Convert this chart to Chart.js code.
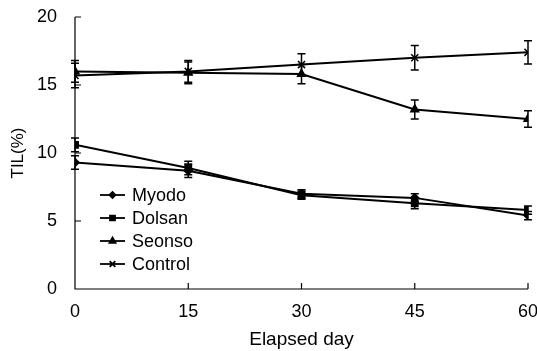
<!DOCTYPE html>
<html>
<head>
<meta charset="utf-8">
<script src="https://cdn.jsdelivr.net/npm/chart.js"></script>
<style>
  html, body { margin: 0; padding: 0; background: #fff; }
  #wrap { width: 537px; height: 351px; position: relative; }
</style>
</head>
<body>
<div id="wrap"><canvas id="chart"></canvas></div>
<script>
// Data
const days = [0, 15, 30, 45, 60];
const yTicks = [0, 5, 10, 15, 20];

const myodo = [9.3, 8.7, 7.0, 6.7, 5.4];
const myodoErr = [0.5, 0.5, 0.3, 0.3, 0.3];
const dolsan = [10.6, 8.9, 6.9, 6.3, 5.8];
const dolsanErr = [0.5, 0.5, 0.3, 0.4, 0.3];
const seonso = [16.0, 15.9, 15.8, 13.2, 12.5];
const seonsoErr = [0.8, 0.8, 0.7, 0.7, 0.6];
const control = [15.7, 16.0, 16.5, 17.0, 17.4];
const controlErr = [0.9, 0.8, 0.8, 0.9, 0.85];

const FONT = '"Liberation Sans", Arial, sans-serif';

function series(label, values, errs, style, radius) {
    return {
        label: label,
        data: values.map((v, i) => ({ x: days[i], y: v })),
        errors: errs,
        borderColor: '#000',
        backgroundColor: '#000',
        borderWidth: 2,
        pointStyle: style,
        pointRadius: radius,
        pointBorderWidth: 1.5,
        pointBorderColor: '#000',
        pointBackgroundColor: '#000',
        tension: 0
    };
}

// Vertical error bars with caps, drawn through the scales
const errorBars = {
    id: 'errorBars',
    afterDatasetsDraw(chart) {
        const ctx = chart.ctx;
        const xs = chart.scales.x, ys = chart.scales.y;
        ctx.save();
        ctx.strokeStyle = '#000';
        ctx.lineWidth = 1.5;
        chart.data.datasets.forEach(ds => {
            ds.data.forEach((p, i) => {
                const e = ds.errors[i];
                const x = xs.getPixelForValue(p.x);
                const yTop = ys.getPixelForValue(p.y + e);
                const yBot = ys.getPixelForValue(p.y - e);
                ctx.beginPath();
                ctx.moveTo(x, yTop); ctx.lineTo(x, yBot);
                ctx.moveTo(x - 4, yTop); ctx.lineTo(x + 4, yTop);
                ctx.moveTo(x - 4, yBot); ctx.lineTo(x + 4, yBot);
                ctx.stroke();
            });
        });
        ctx.restore();
    }
};

// Axis lines with inward tick marks
const axesInward = {
    id: 'axesInward',
    afterDraw(chart) {
        const ctx = chart.ctx;
        const xs = chart.scales.x, ys = chart.scales.y;
        const a = chart.chartArea;
        ctx.save();
        ctx.strokeStyle = '#000';
        ctx.lineWidth = 1.2;
        ctx.beginPath();
        ctx.moveTo(a.left, a.top); ctx.lineTo(a.left, a.bottom); ctx.lineTo(a.right, a.bottom);
        yTicks.forEach(v => {
            const y = ys.getPixelForValue(v);
            ctx.moveTo(a.left, y); ctx.lineTo(a.left + 6, y);
        });
        days.forEach(v => {
            const x = xs.getPixelForValue(v);
            ctx.moveTo(x, a.bottom); ctx.lineTo(x, a.bottom - 6);
        });
        ctx.stroke();
        ctx.restore();
    }
};

// Legend inside the plot area
const innerLegend = {
    id: 'innerLegend',
    afterDraw(chart) {
        const ctx = chart.ctx;
        const x0 = 100, x1 = 125, textX = 132;
        const rowY = [195, 218, 241, 264];
        ctx.save();
        ctx.font = '18px ' + FONT;
        ctx.fillStyle = '#000';
        ctx.textBaseline = 'middle';
        chart.data.datasets.forEach((ds, i) => {
            const y = rowY[i];
            ctx.strokeStyle = '#000';
            ctx.lineWidth = 1.8;
            ctx.beginPath();
            ctx.moveTo(x0, y); ctx.lineTo(x1, y);
            ctx.stroke();
            Chart.helpers.drawPoint(ctx, {
                pointStyle: ds.pointStyle, radius: ds.pointRadius - 1, borderWidth: 1.5
            }, (x0 + x1) / 2, y);
            ctx.fillText(ds.label, textX, y + 1);
        });
        ctx.restore();
    }
};

new Chart(document.getElementById('chart'), {
    type: 'line',
    data: {
        datasets: [
            series('Myodo', myodo, myodoErr, 'rectRot', 4),
            series('Dolsan', dolsan, dolsanErr, 'rect', 4.5),
            series('Seonso', seonso, seonsoErr, 'triangle', 4.5),
            series('Control', control, controlErr, 'crossRot', 5)
        ]
    },
    options: {
        responsive: true,
        maintainAspectRatio: false,
        animation: false,
        layout: { padding: { top: 17, right: 0, left: 0, bottom: 0 } },
        scales: {
            x: {
                type: 'linear',
                min: 0, max: 60,
                afterBuildTicks: s => { s.ticks = days.map(v => ({ value: v })); },
                afterFit: s => { s.height = 62; s.paddingRight = 9; },
                grid: { display: false },
                border: { display: false },
                ticks: { color: '#000', font: { family: FONT, size: 18 }, padding: 4, maxRotation: 0 },
                title: {
                    display: true, text: 'Elapsed day', color: '#000',
                    font: { family: FONT, size: 19 }, padding: { top: 2, bottom: 0 }
                }
            },
            y: {
                min: 0, max: 20,
                afterBuildTicks: s => { s.ticks = yTicks.map(v => ({ value: v })); },
                afterFit: s => { s.width = 75; s.paddingTop = 0; s.paddingBottom = 0; },
                grid: { display: false },
                border: { display: false },
                ticks: { color: '#000', font: { family: FONT, size: 18 }, padding: 10 },
                title: {
                    display: true, text: 'TIL(%)', color: '#000',
                    font: { family: FONT, size: 17 }, padding: { top: 8, bottom: 0 }
                }
            }
        },
        plugins: {
            legend: { display: false },
            tooltip: { enabled: false }
        }
    },
    plugins: [errorBars, axesInward, innerLegend]
});
</script>
</body>
</html>
